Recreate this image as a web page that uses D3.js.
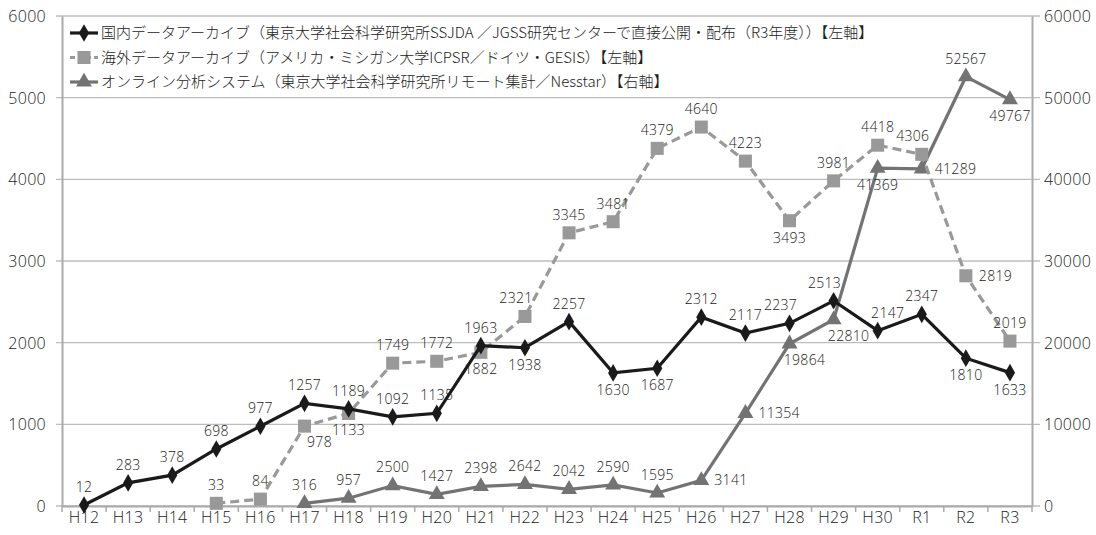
<!DOCTYPE html>
<html>
<head>
<meta charset="utf-8">
<script src="https://cdn.jsdelivr.net/npm/d3@7"></script>
<style>
  body { margin: 0; background: #fff; }
  text { fill: #222; }
  .num { font-family: "Open Sans", "Liberation Sans", sans-serif; font-weight: 300; letter-spacing: 0.3px; }
  .jp { font-family: "Noto Sans CJK JP", "Noto Sans", sans-serif; font-weight: 300; }
</style>
</head>
<body>
<div id="chart"></div>
<script>
// categories (fiscal years)
var years = ["H12","H13","H14","H15","H16","H17","H18","H19","H20","H21","H22",
             "H23","H24","H25","H26","H27","H28","H29","H30","R1","R2","R3"];

// series values (null = no data that year)
var domestic = [12,283,378,698,977,1257,1189,1092,1135,1963,1938,
                2257,1630,1687,2312,2117,2237,2513,2147,2347,1810,1633];
var overseas = [null,null,null,33,84,978,1133,1749,1772,1882,2321,
                3345,3481,4379,4640,4223,3493,3981,4418,4306,2819,2019];
var online = [null,null,null,null,null,316,957,2500,1427,2398,2642,
              2042,2590,1595,3141,11354,19864,22810,41369,41289,52567,49767];

var leftTicks = [0,1000,2000,3000,4000,5000,6000];
var rightTicks = [0,10000,20000,30000,40000,50000,60000];

var seriesNames = [
  "国内データアーカイブ（東京大学社会科学研究所SSJDA ／JGSS研究センターで直接公開・配布（R3年度））【左軸】",
  "海外データアーカイブ（アメリカ・ミシガン大学ICPSR／ドイツ・GESIS）【左軸】",
  "オンライン分析システム（東京大学社会科学研究所リモート集計／Nesstar）【右軸】"
];

// where each data label sits relative to its point
var place1 = ["t","t","t","t","t","t","t","t","t","t","b","t","b","b","t","t","tl","tl","tr","t","b","b"];
var place2 = [null,null,null,"t","t","br","b","t","t","b","tl","t","t","t","t","t","b","t","t","tl","r","t"];
var place3 = [null,null,null,null,null,"t","t","t","t","t","t","t","t","t","r","r","br","br","b","r","t","b"];

var svgWidth = 1096, svgHeight = 535;
var margin = {top: 16, right: 64, bottom: 29, left: 62};
var chartWidth = svgWidth - margin.left - margin.right;
var chartHeight = svgHeight - margin.top - margin.bottom;

var svg = d3.select("#chart").append("svg")
  .attr("width", svgWidth)
  .attr("height", svgHeight);

var chartGroup = svg.append("g")
  .attr("transform", `translate(${margin.left}, ${margin.top})`);

var xScale = d3.scaleBand().domain(years).range([0, chartWidth]);
var yLeft = d3.scaleLinear().domain([0, 6000]).range([chartHeight, 0]);
var yRight = d3.scaleLinear().domain([0, 60000]).range([chartHeight, 0]);
var cx = d => xScale(d) + xScale.bandwidth() / 2;

// gridlines
chartGroup.append("g").selectAll("line").data(leftTicks).enter().append("line")
  .attr("x1", -6).attr("x2", chartWidth + 8)
  .attr("y1", d => yLeft(d)).attr("y2", d => yLeft(d))
  .attr("stroke", "#bdbdbd").attr("stroke-width", 1.3);

// axes
var leftAxis = d3.axisLeft(yLeft).tickValues(leftTicks).tickFormat(d3.format("d")).tickSize(0).tickPadding(16);
var rightAxis = d3.axisRight(yRight).tickValues(rightTicks).tickFormat(d3.format("d")).tickSize(0).tickPadding(12);
var bottomAxis = d3.axisBottom(xScale).tickSize(0).tickPadding(6);

var gl = chartGroup.append("g").call(leftAxis);
var gr = chartGroup.append("g").attr("transform", `translate(${chartWidth},0)`).call(rightAxis);
var gb = chartGroup.append("g").attr("transform", `translate(0,${chartHeight})`).call(bottomAxis);
[gl, gr, gb].forEach(g => {
  g.attr("font-family", null);
  g.select(".domain").attr("stroke", "#aaa").attr("stroke-width", 2);
  g.selectAll("text").attr("class", "num").style("font-size", "16px").attr("fill", "#222");
});
gl.selectAll("text").attr("dy", "0.35em");
gr.selectAll("text").attr("dy", "0.35em");

// x tick marks on category boundaries
chartGroup.append("g").selectAll("line").data(years.concat(["end"])).enter().append("line")
  .attr("x1", (d, i) => i * xScale.bandwidth()).attr("x2", (d, i) => i * xScale.bandwidth())
  .attr("y1", chartHeight).attr("y2", chartHeight + 6)
  .attr("stroke", "#aaa").attr("stroke-width", 1.5);

var symDiamond = d3.symbol().type(d3.symbolDiamond).size(90);
var symSquare = d3.symbol().type(d3.symbolSquare).size(170);
var symTriangle = d3.symbol().type(d3.symbolTriangle).size(110);

var series = [
  {values: domestic, y: yLeft, color: "#1a1a1a", dash: null, sym: symDiamond, place: place1},
  {values: overseas, y: yLeft, color: "#999999", dash: "9,5", sym: symSquare, place: place2},
  {values: online, y: yRight, color: "#737373", dash: null, sym: symTriangle, place: place3}
];

// draw lines first, then markers, then labels
series.slice().reverse().forEach(function(s) {
  var pts = years.map((yr, i) => ({yr: yr, v: s.values[i]})).filter(p => p.v != null);
  var line = d3.line().x(p => cx(p.yr)).y(p => s.y(p.v));
  chartGroup.append("path").datum(pts)
    .attr("d", line)
    .attr("fill", "none")
    .attr("stroke", s.color)
    .attr("stroke-width", 3.2)
    .attr("stroke-dasharray", s.dash);
  chartGroup.append("g").selectAll("path").data(pts).enter().append("path")
    .attr("d", s.sym)
    .attr("transform", p => `translate(${cx(p.yr)},${s.y(p.v)})`)
    .attr("fill", s.color);
});

var offsets = {
  t: [0, -18, "middle"], b: [0, 17, "middle"], tl: [-9, -18, "middle"],
  tr: [10, -18, "middle"], br: [15, 16, "middle"], r: [13, 0, "start"]
};

series.forEach(function(s) {
  var pts = years.map((yr, i) => ({yr: yr, v: s.values[i], pos: s.place[i]})).filter(p => p.v != null);
  chartGroup.append("g").selectAll("text").data(pts).enter().append("text")
    .attr("class", "num")
    .attr("x", p => cx(p.yr) + offsets[p.pos][0])
    .attr("y", p => s.y(p.v) + offsets[p.pos][1])
    .attr("dy", "0.35em")
    .attr("text-anchor", p => offsets[p.pos][2])
    .style("font-size", "14px")
    .text(p => p.v);
});

// legend
var legend = chartGroup.selectAll(".lineLegend").data(series)
  .enter().append("g")
  .attr("class", "lineLegend")
  .attr("transform", (d, i) => `translate(8, ${17 + i * 24.5})`);

legend.append("line")
  .attr("x1", 0).attr("x2", 28)
  .attr("stroke", d => d.color)
  .attr("stroke-width", 3.2)
  .attr("stroke-dasharray", d => d.dash ? "5,3" : null);
legend.append("path")
  .attr("d", d => d.sym())
  .attr("transform", "translate(14,0)")
  .attr("fill", d => d.color);
legend.append("text")
  .attr("class", "jp")
  .attr("x", 31).attr("dy", "0.35em")
  .style("font-size", "15px")
  .attr("fill", "#222")
  .text((d, i) => seriesNames[i]);
</script>
</body>
</html>
